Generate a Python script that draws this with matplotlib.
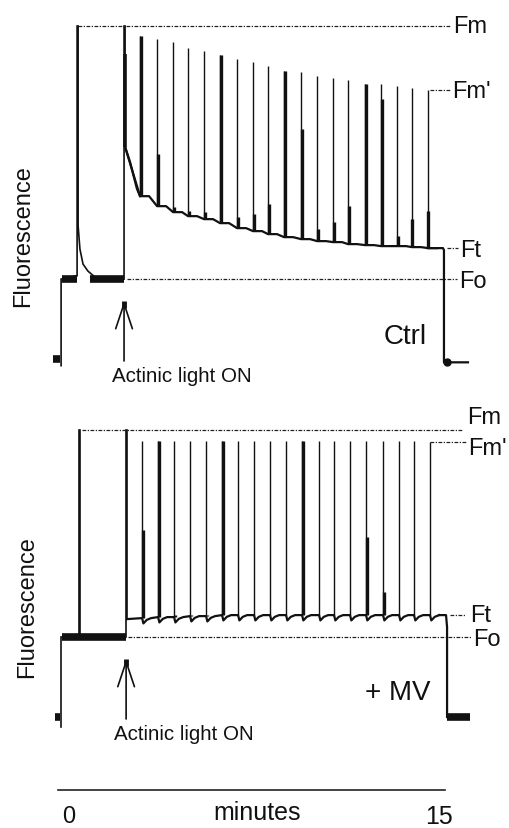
import matplotlib

matplotlib.use("Agg")
import matplotlib.pyplot as plt
import numpy as np

plt.rcParams.update({"font.family": ["Liberation Sans", "DejaVu Sans"]})

INK = "#111111"
DOT = (0, (3.0, 1.2, 1.0, 1.2))

# ---------------- Ctrl (upper trace), time in min, F relative to dark ----------
ctrl_levels = {"Fm": 1.000, "Fm'": 0.808, "Ft": 0.333, "Fo": 0.240}
# dark -> Fo -> first saturating pulse -> dark-adapted baseline -> actinic on
ctrl_pre_t = [0.12, 0.12, 0.74, 0.74, 0.78, 0.78, 0.85, 0.97, 1.16, 1.43, 2.56, 2.56, 2.60, 2.60]
ctrl_pre_f = [-0.02, 0.24, 0.25, 1.00, 1.00, 0.40, 0.33, 0.285, 0.264, 0.246, 0.24, 1.00, 1.00, 0.637]
# Kautsky decline under actinic light
ctrl_decay_t = [2.60, 2.79, 3.06]
ctrl_decay_f = [0.637, 0.592, 0.511]
ctrl_onset_peak = 0.916
ctrl_pulse_t = [3.18, 3.84, 4.46, 5.04, 5.66, 6.28, 6.94, 7.56, 8.14, 8.76,
                9.42, 10.04, 10.66, 11.24, 11.90, 12.52, 13.14, 13.72, 14.34]
ctrl_pulse_base = [0.489, 0.459, 0.441, 0.429, 0.420, 0.408, 0.393, 0.384, 0.375, 0.366,
                   0.360, 0.354, 0.351, 0.345, 0.342, 0.339, 0.339, 0.336, 0.333]
ctrl_pulse_peak = [0.970, 0.961, 0.952, 0.934, 0.925, 0.913, 0.901, 0.892, 0.880, 0.865,
                   0.862, 0.850, 0.844, 0.838, 0.826, 0.826, 0.820, 0.814, 0.808]
ctrl_pulse_stub = [0.970, 0.616, 0.456, 0.444, 0.441, 0.913, 0.426, 0.435, 0.465, 0.865,
                   0.691, 0.390, 0.411, 0.459, 0.826, 0.781, 0.369, 0.420, 0.444]
ctrl_end_t = [14.34, 14.92, 14.96, 14.96, 15.89]
ctrl_end_f = [0.333, 0.333, 0.327, -0.01, -0.01]
ctrl_noise_t = [(0.14, 0.72), (1.25, 2.55)]
ctrl_dark_t = (-0.20, 0.08)

# ---------------- + MV (lower trace) ------------------------------------------
mv_levels = {"Fm": 0.862, "Fm'": 0.826, "Ft": 0.306, "Fo": 0.240}
mv_pre_t = [0.12, 0.12, 0.81, 0.81, 0.85, 0.85, 2.64, 2.64, 2.68, 2.68]
mv_pre_f = [-0.03, 0.24, 0.24, 0.862, 0.862, 0.24, 0.24, 0.862, 0.862, 0.294]
mv_pulse_t = [3.26, 3.88, 4.50, 5.12, 5.74, 6.36, 6.98, 7.60, 8.22, 8.84,
              9.46, 10.12, 10.70, 11.32, 11.94, 12.60, 13.22, 13.80, 14.42]
mv_pulse_base = [0.297, 0.300, 0.300, 0.303, 0.303, 0.306, 0.306, 0.306, 0.306, 0.306,
                 0.306, 0.306, 0.306, 0.306, 0.306, 0.306, 0.306, 0.306, 0.306]
mv_pulse_peak = [0.829, 0.829, 0.829, 0.829, 0.829, 0.829, 0.829, 0.829, 0.829, 0.829,
                 0.829, 0.829, 0.829, 0.829, 0.829, 0.829, 0.829, 0.829, 0.826]
mv_pulse_stub = [0.562, 0.829, 0.306, 0.306, 0.306, 0.829, 0.306, 0.306, 0.306, 0.306,
                 0.829, 0.306, 0.306, 0.306, 0.541, 0.375, 0.306, 0.306, 0.306]
mv_dip = 0.016
mv_end_t = [15.04, 15.08, 15.08]
mv_end_f = [0.306, 0.27, 0.0]
mv_noise_t = [(0.14, 2.62), (15.08, 15.97)]
mv_dark_t = (-0.12, 0.08)


def draw_panel(ax, levels, guides, labels, pre_t, pre_f, pulse_t, pulse_base,
               pulse_peak, pulse_stub, noise, dark, arrow_t, tag, tag_xy, dip=0.0):
    ax.plot(pre_t, pre_f, color=INK, lw=1.2, solid_joinstyle="miter")
    # steady-state trace between saturating pulses
    bt, bf = [pre_t[-1]], [pre_f[-1]]
    for t, b in zip(pulse_t, pulse_base):
        bt += [t, t + 0.05, t + 0.18, t + 0.35]
        bf += [b, b - dip, b - dip / 3, b]
    ax.plot(bt, bf, color=INK, lw=1.6)
    ax.vlines(pulse_t, pulse_base, pulse_peak, color=INK, lw=1.0)
    ax.vlines(np.array(pulse_t) + 0.02, pulse_base, pulse_stub, color=INK, lw=2.4)
    for a, b in noise:
        ax.plot([a, b], [levels["Fo"]] * 2 if a < 5 else [0.0, 0.0], color=INK, lw=5.5,
                solid_capstyle="butt")
    ax.plot(dark, [0.0, 0.0], color=INK, lw=5.5, solid_capstyle="butt")

    for name, (a, b) in guides.items():
        ax.plot([a, b], [levels[name]] * 2, color="#222222", lw=0.9, ls=DOT)
    for name, (x, y) in labels.items():
        ax.text(x, y, name, ha="left", va="center", fontsize=17, color=INK)

    tip = levels["Fo"] - 0.066
    ax.annotate("", xy=(arrow_t, tip), xytext=(arrow_t, tip - 0.18),
                arrowprops=dict(arrowstyle="->,head_length=1.8,head_width=0.6",
                                mutation_scale=10, lw=1.2, color=INK, shrinkA=0, shrinkB=0))
    ax.plot([arrow_t, arrow_t], [tip - 0.022, tip], color=INK, lw=3.5, solid_capstyle="butt")
    ax.text(arrow_t + 2.25, tip - 0.225, "Actinic light ON", ha="center", va="center",
            fontsize=14.8, color=INK)
    ax.text(*tag_xy, tag, ha="center", va="center", fontsize=20, color=INK)


fig = plt.figure(figsize=(5.09, 8.29), dpi=100)
X_LIM = (-58 / 25.8, (509 - 58) / 25.8)
ax_top = fig.add_axes([0, 1 - 400 / 829, 1, 400 / 829])
ax_bot = fig.add_axes([0, 0, 1, 429 / 829])
ax_top.set_xlim(*X_LIM)
ax_top.set_ylim(-40 / 333, 360 / 333)
ax_bot.set_xlim(*X_LIM)
ax_bot.set_ylim(-111 / 333, 318 / 333)
for ax in (ax_top, ax_bot):
    ax.axis("off")

draw_panel(
    ax_top, ctrl_levels,
    guides={"Fm": (0.78, 15.19), "Fm'": (14.42, 15.19), "Ft": (15.08, 15.50), "Fo": (2.67, 15.47)},
    labels={"Fm": (15.31, 1.000), "Fm'": (15.27, 0.806), "Ft": (15.58, 0.328), "Fo": (15.54, 0.234)},
    pre_t=ctrl_pre_t, pre_f=ctrl_pre_f,
    pulse_t=ctrl_pulse_t, pulse_base=ctrl_pulse_base,
    pulse_peak=ctrl_pulse_peak, pulse_stub=ctrl_pulse_stub,
    noise=ctrl_noise_t, dark=ctrl_dark_t, arrow_t=2.56,
    tag="Ctrl", tag_xy=(13.45, 0.069),
)
ax_top.plot(ctrl_decay_t + [ctrl_pulse_t[0]], ctrl_decay_f + [ctrl_pulse_base[0]], color=INK, lw=1.6)
ax_top.vlines([ctrl_decay_t[0]], ctrl_decay_f[0], ctrl_onset_peak, color=INK, lw=2.6)
ax_top.plot(ctrl_end_t, ctrl_end_f, color=INK, lw=1.6)
ax_top.plot([15.08], [-0.01], marker="o", ms=5, color=INK)

draw_panel(
    ax_bot, mv_levels,
    guides={"Fm": (0.93, 15.70), "Fm'": (14.42, 15.85), "Ft": (15.19, 15.78), "Fo": (2.70, 16.00)},
    labels={"Fm": (15.85, 0.902), "Fm'": (15.89, 0.808), "Ft": (15.97, 0.306), "Fo": (16.09, 0.234)},
    pre_t=mv_pre_t, pre_f=mv_pre_f,
    pulse_t=mv_pulse_t, pulse_base=mv_pulse_base,
    pulse_peak=mv_pulse_peak, pulse_stub=mv_pulse_stub,
    noise=mv_noise_t, dark=mv_dark_t, arrow_t=2.64,
    tag="+ MV", tag_xy=(13.18, 0.075), dip=mv_dip,
)
ax_bot.plot([mv_pulse_t[-1] + 0.35] + mv_end_t, [mv_pulse_base[-1]] + mv_end_f, color=INK, lw=1.6)

# time scale bar
ax_bot.plot([0, 15], [-0.219, -0.219], color="#222222", lw=1.2)
ax_bot.text(0.15, -0.297, "0", ha="left", va="center", fontsize=17, color=INK)
ax_bot.text(15.31, -0.297, "15", ha="right", va="center", fontsize=18, color=INK)
ax_bot.text(7.71, -0.285, "minutes", ha="center", va="center", fontsize=18, color=INK)

fig.text(23 / 509, 1 - 236 / 829, "Fluorescence", rotation=90, ha="center", va="center",
         fontsize=17, color=INK)
fig.text(27 / 509, 1 - 607 / 829, "Fluorescence", rotation=90, ha="center", va="center",
         fontsize=17, color=INK)

fig.savefig("out.png", dpi=100, facecolor="white")
